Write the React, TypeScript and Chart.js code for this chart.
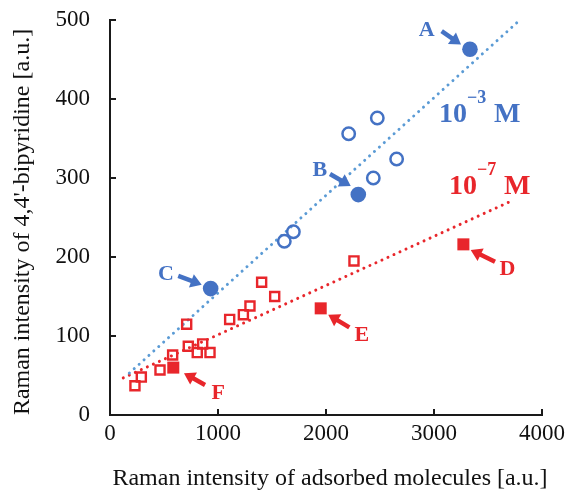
import { useEffect, useRef } from "react";
import { Chart, registerables } from "chart.js";

Chart.register(...registerables);

// ---------- data ----------
const blueFilledX = [3333, 2299, 932];
const blueFilledY = [463, 279, 160];
const blueOpenX = [2475, 2210, 2654, 2438, 1698, 1614];
const blueOpenY = [376, 356, 324, 300, 232, 220];
const redFilledX = [3272, 1951, 586];
const redFilledY = [216, 135, 60];
const redOpenX = [231, 290, 463, 580, 725, 808, 858, 926, 710, 1108, 1235, 1296, 1404, 1525, 2259];
const redOpenY = [37, 48, 57, 76, 87, 79, 90, 79, 115, 121, 127, 138, 168, 150, 195];
const blueFitX = [179, 3771];
const blueFitY = [53, 497];
const redFitX = [123, 3735];
const redFitY = [47, 272];

const xTicks = [0, 1000, 2000, 3000, 4000];
const yTicks = [0, 100, 200, 300, 400, 500];

const xTitle = "Raman intensity of adsorbed molecules [a.u.]";
const yTitle = "Raman intensity of 4,4'-bipyridine [a.u.]";

// point labels (data units)
const labelNames = ["A", "B", "C", "D", "E", "F"];
const labelIsBlue = [true, true, true, false, false, false];
const labelX = [2932, 1944, 519, 3679, 2331, 1003];
const labelY = [487, 310, 178, 184, 101, 28];
const arrowFromX = [3071, 2037, 632, 3565, 2216, 880];
const arrowFromY = [486, 305, 176, 194, 111, 38];
const arrowToX = [3250, 2229, 849, 3340, 2021, 685];
const arrowToY = [469, 290, 165, 209, 127, 53];

// concentration labels
const concBase = ["10", "10"];
const concExp = ["\u22123", "\u22127"];
const concUnit = ["M", "M"];
const concX = [3046, 3139];
const concY = [371, 280];
const concIsBlue = [true, false];

const BLUE = "#4472C4";
const BLUE_LINE = "#5B9BD5";
const RED = "#E8262B";
const AXIS = "#1a1a1a";
const SERIF = "'Liberation Serif', 'Times New Roman', serif";

const pts = (xs: number[], ys: number[]) => xs.map((x, i) => ({ x, y: ys[i] }));

function drawArrow(ctx: CanvasRenderingContext2D, x1: number, y1: number, x2: number, y2: number, color: string) {
  const ang = Math.atan2(y2 - y1, x2 - x1);
  const headLen = 11;
  const headHalf = 7;
  const bx = x2 - headLen * Math.cos(ang);
  const by = y2 - headLen * Math.sin(ang);
  ctx.save();
  ctx.strokeStyle = color;
  ctx.fillStyle = color;
  ctx.lineWidth = 4.5;
  ctx.lineCap = "butt";
  ctx.beginPath();
  ctx.moveTo(x1, y1);
  ctx.lineTo(bx + Math.cos(ang), by + Math.sin(ang));
  ctx.stroke();
  ctx.beginPath();
  ctx.moveTo(x2, y2);
  ctx.lineTo(bx + headHalf * Math.sin(ang), by - headHalf * Math.cos(ang));
  ctx.lineTo(bx - headHalf * Math.sin(ang), by + headHalf * Math.cos(ang));
  ctx.closePath();
  ctx.fill();
  ctx.restore();
}

const overlay = {
  id: "overlay",
  afterDraw(chart: any) {
    const ctx: CanvasRenderingContext2D = chart.ctx;
    const xs = chart.scales.x;
    const ys = chart.scales.y;
    const { left, bottom } = chart.chartArea;
    ctx.save();
    // inward tick marks
    ctx.strokeStyle = AXIS;
    ctx.lineWidth = 2;
    xTicks.forEach((v) => {
      const px = Math.round(xs.getPixelForValue(v));
      ctx.beginPath();
      ctx.moveTo(px, bottom);
      ctx.lineTo(px, bottom - 6);
      ctx.stroke();
    });
    yTicks.forEach((v) => {
      const py = Math.round(ys.getPixelForValue(v));
      ctx.beginPath();
      ctx.moveTo(left, py);
      ctx.lineTo(left + 6, py);
      ctx.stroke();
    });

    // axis titles
    ctx.fillStyle = "#111";
    ctx.font = `24px ${SERIF}`;
    ctx.textAlign = "center";
    ctx.textBaseline = "alphabetic";
    ctx.fillText(xTitle, 330, 485);
    ctx.save();
    ctx.translate(29, 222);
    ctx.rotate(-Math.PI / 2);
    ctx.fillText(yTitle, 0, 0);
    ctx.restore();

    // point labels and arrows
    labelNames.forEach((name, i) => {
      const color = labelIsBlue[i] ? BLUE : RED;
      ctx.fillStyle = color;
      ctx.font = `bold 22px ${SERIF}`;
      ctx.textAlign = "center";
      ctx.textBaseline = "middle";
      ctx.fillText(name, xs.getPixelForValue(labelX[i]), ys.getPixelForValue(labelY[i]));
      drawArrow(
        ctx,
        xs.getPixelForValue(arrowFromX[i]),
        ys.getPixelForValue(arrowFromY[i]),
        xs.getPixelForValue(arrowToX[i]),
        ys.getPixelForValue(arrowToY[i]),
        color
      );
    });

    // concentration labels
    concBase.forEach((b, i) => {
      const color = concIsBlue[i] ? BLUE : RED;
      const px = xs.getPixelForValue(concX[i]);
      const py = ys.getPixelForValue(concY[i]);
      ctx.fillStyle = color;
      ctx.textAlign = "left";
      ctx.textBaseline = "alphabetic";
      ctx.font = `bold 28px ${SERIF}`;
      ctx.fillText(b, px, py);
      const w = ctx.measureText(b).width;
      ctx.font = `bold 18px ${SERIF}`;
      ctx.fillText(concExp[i], px + w, py - 19);
      ctx.font = `bold 28px ${SERIF}`;
      ctx.fillText(concUnit[i], px + w + 27, py);
    });
    ctx.restore();
  },
};

export default function App() {
  const ref = useRef<HTMLCanvasElement | null>(null);
  useEffect(() => {
    if (!ref.current) return;
    const tickFont = { family: SERIF, size: 23 };
    const chart = new Chart(ref.current, {
      type: "scatter",
      data: {
        datasets: [
          {
            data: pts(blueFilledX, blueFilledY),
            pointStyle: "circle",
            pointRadius: 7.8,
            backgroundColor: BLUE,
            borderColor: BLUE,
            borderWidth: 0,
          },
          {
            data: pts(blueOpenX, blueOpenY),
            pointStyle: "circle",
            pointRadius: 6.2,
            backgroundColor: "rgba(255,255,255,0)",
            borderColor: BLUE,
            borderWidth: 2.5,
          },
          {
            data: pts(redFilledX, redFilledY),
            pointStyle: "rect",
            pointRadius: 8.5,
            backgroundColor: RED,
            borderColor: RED,
            borderWidth: 0,
          },
          {
            data: pts(redOpenX, redOpenY),
            pointStyle: "rect",
            pointRadius: 6.4,
            backgroundColor: "rgba(255,255,255,0)",
            borderColor: RED,
            borderWidth: 2.4,
          },
          {
            type: "line",
            data: pts(blueFitX, blueFitY),
            showLine: true,
            pointRadius: 0,
            borderColor: BLUE_LINE,
            borderWidth: 3,
            borderDash: [0.01, 6.6],
            borderCapStyle: "round",
            fill: false,
          } as any,
          {
            type: "line",
            data: pts(redFitX, redFitY),
            showLine: true,
            pointRadius: 0,
            borderColor: RED,
            borderWidth: 3,
            borderDash: [0.01, 6.6],
            borderCapStyle: "round",
            fill: false,
          } as any,
        ],
      },
      options: {
        responsive: false,
        animation: false,
        layout: { padding: { left: 0, top: 20, right: 29, bottom: 0 } },
        plugins: { legend: { display: false }, tooltip: { enabled: false } },
        scales: {
          x: {
            type: "linear",
            min: 0,
            max: 4000,
            afterFit: (s: any) => {
              s.height = 78;
              s.paddingLeft = 0;
              s.paddingRight = 0;
            },
            afterBuildTicks: (s: any) => {
              s.ticks = xTicks.map((v) => ({ value: v }));
            },
            ticks: { font: tickFont, color: "#111", padding: 5, maxRotation: 0, callback: (v: any) => String(v) },
            grid: { display: false, drawTicks: false },
            border: { display: true, color: AXIS, width: 2 },
          },
          y: {
            type: "linear",
            min: 0,
            max: 500,
            afterFit: (s: any) => {
              s.width = 110;
              s.paddingTop = 0;
              s.paddingBottom = 0;
            },
            afterBuildTicks: (s: any) => {
              s.ticks = yTicks.map((v) => ({ value: v }));
            },
            ticks: { font: tickFont, color: "#111", padding: 20, callback: (v: any) => String(v) },
            grid: { display: false, drawTicks: false },
            border: { display: true, color: AXIS, width: 2 },
          },
        },
      } as any,
      plugins: [overlay],
    });
    return () => chart.destroy();
  }, []);
  return (
    <div style={{ position: "absolute", left: 0, top: 0, width: 571, height: 493, background: "#fff" }}>
      <canvas ref={ref} width={571} height={493} />
    </div>
  );
}
